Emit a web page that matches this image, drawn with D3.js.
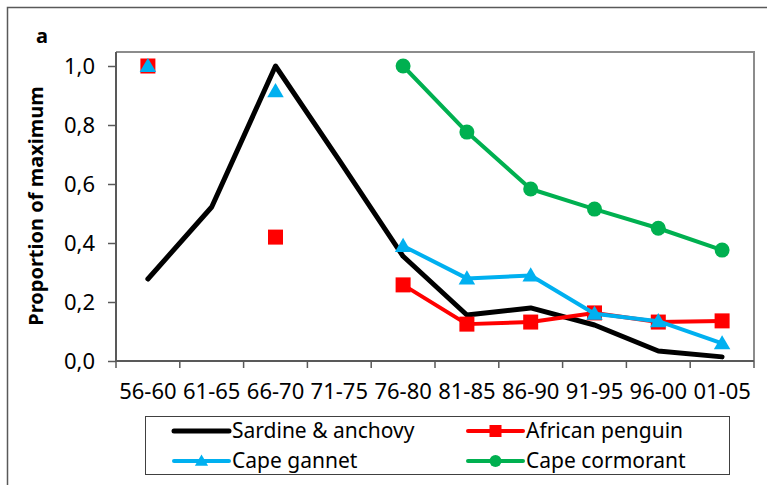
<!DOCTYPE html>
<html>
<head>
<meta charset="utf-8">
<script src="https://cdn.jsdelivr.net/npm/d3@7"></script>
<style>
  body { margin: 0; background: #fff; }
  svg { font-family: "Noto Sans", "Open Sans", sans-serif; }
</style>
</head>
<body>
<div id="chart"></div>
<script>
// categories (five-year periods)
const periods = ["56-60", "61-65", "66-70", "71-75", "76-80", "81-85", "86-90", "91-95", "96-00", "01-05"];

// series values, proportion of maximum (null = no data)
const sardineAnchovy = [0.278, 0.522, 1.0, 0.68, 0.355, 0.156, 0.18, 0.122, 0.034, 0.014];
const africanPenguin = [1.0, null, 0.42, null, 0.258, 0.125, 0.132, 0.163, 0.132, 0.136];
const capeGannet     = [1.0, null, 0.915, null, 0.39, 0.28, 0.29, 0.16, 0.135, 0.06];
const capeCormorant  = [null, null, null, null, 1.0, 0.776, 0.583, 0.515, 0.45, 0.376];

const yTicks = [0, 0.2, 0.4, 0.6, 0.8, 1.0];

const seriesNames = ["Sardine & anchovy", "African penguin", "Cape gannet", "Cape cormorant"];

const series = [
  { name: seriesNames[0], values: sardineAnchovy, color: "#000000", marker: null, width: 5 },
  { name: seriesNames[1], values: africanPenguin, color: "#FF0000", marker: "square", width: 4 },
  { name: seriesNames[2], values: capeGannet, color: "#00B0F0", marker: "triangle", width: 4 },
  { name: seriesNames[3], values: capeCormorant, color: "#00B050", marker: "circle", width: 4 }
];

const W = 767, H = 485;
const plot = { left: 116, right: 754, top: 52, bottom: 361 };

const svg = d3.select("#chart").append("svg")
  .attr("width", W)
  .attr("height", H);

// outer frame (left and top edges only are visible)
svg.append("path")
  .attr("d", `M7.5,${H} L7.5,7.5 L${W},7.5`)
  .attr("fill", "none")
  .attr("stroke", "#595959")
  .attr("stroke-width", 1.5);

// panel letter
svg.append("text")
  .attr("x", 36)
  .attr("y", 43)
  .attr("font-size", "20px")
  .attr("font-weight", "bold")
  .text("a");

const x = d3.scaleBand()
  .domain(periods)
  .range([plot.left, plot.right]);

const y = d3.scaleLinear()
  .domain([0, 1])
  .range([plot.bottom, 66]);

// plot area border (top & right grey)
svg.append("path")
  .attr("d", `M${plot.left},${plot.top} L${plot.right},${plot.top} L${plot.right},${plot.bottom}`)
  .attr("fill", "none")
  .attr("stroke", "#8C8C8C")
  .attr("stroke-width", 2);

// y axis
const yAxis = svg.append("g")
  .attr("transform", `translate(${plot.left},0)`)
  .call(d3.axisLeft(y).tickValues(yTicks).tickSize(8).tickPadding(13)
    .tickFormat(d => d3.format(".1f")(d).replace(".", ",")));
yAxis.select(".domain").remove();
yAxis.selectAll("line").attr("stroke", "#595959").attr("stroke-width", 1.5);
yAxis.selectAll("text").attr("font-size", "22px").attr("fill", "#000")
  .attr("font-family", "Noto Sans, sans-serif");

// x axis labels at band centres
const xAxis = svg.append("g")
  .attr("transform", `translate(0,${plot.bottom})`)
  .call(d3.axisBottom(x).tickSize(0).tickPadding(22));
xAxis.select(".domain").remove();
xAxis.selectAll("text").attr("font-size", "22px").attr("fill", "#000")
  .attr("font-family", "Noto Sans, sans-serif");

// x tick marks on band boundaries
const boundaries = periods.map(p => x(p)).concat([plot.right]);
svg.append("g").selectAll("line")
  .data(boundaries)
  .enter().append("line")
  .attr("x1", d => d).attr("x2", d => d)
  .attr("y1", plot.bottom).attr("y2", plot.bottom + 7)
  .attr("stroke", "#595959")
  .attr("stroke-width", 1.5);

// axis lines
svg.append("path")
  .attr("d", `M${plot.left},${plot.top} L${plot.left},${plot.bottom} L${plot.right},${plot.bottom}`)
  .attr("fill", "none")
  .attr("stroke", "#595959")
  .attr("stroke-width", 2);

// y axis title
svg.append("text")
  .attr("transform", "rotate(-90)")
  .attr("x", -206)
  .attr("y", 43)
  .attr("text-anchor", "middle")
  .attr("font-size", "20px")
  .attr("font-weight", "bold")
  .text("Proportion of maximum");

const cx = p => x(p) + x.bandwidth() / 2;

function drawMarker(g, type, color, size) {
  if (type === "square") {
    g.append("rect")
      .attr("x", -size / 2).attr("y", -size / 2)
      .attr("width", size).attr("height", size)
      .attr("fill", color);
  } else if (type === "triangle") {
    const h = size * 0.9;
    g.append("path")
      .attr("d", `M0,${-h * 0.6} L${size * 0.55},${h * 0.45} L${-size * 0.55},${h * 0.45} Z`)
      .attr("fill", color);
  } else if (type === "circle") {
    g.append("circle").attr("r", size / 2).attr("fill", color);
  }
}

const line = d3.line()
  .defined(d => d.v !== null)
  .x(d => cx(d.p))
  .y(d => y(d.v));

series.forEach(s => {
  const pts = periods.map((p, i) => ({ p: p, v: s.values[i] }));
  svg.append("path")
    .datum(pts)
    .attr("d", line)
    .attr("fill", "none")
    .attr("stroke", s.color)
    .attr("stroke-width", s.width)
    .attr("stroke-linejoin", "round")
    .attr("stroke-linecap", "round");

  if (s.marker) {
    pts.filter(d => d.v !== null).forEach(d => {
      const g = svg.append("g").attr("transform", `translate(${cx(d.p)},${y(d.v)})`);
      drawMarker(g, s.marker, s.color, 15);
    });
  }
});

// legend
const legend = svg.append("g");
legend.append("rect")
  .attr("x", 145.5).attr("y", 416.5)
  .attr("width", 584).attr("height", 58)
  .attr("fill", "#fff")
  .attr("stroke", "#404040")
  .attr("stroke-width", 1);

const legendPos = [
  { x: 174, y: 431 },
  { x: 468, y: 431 },
  { x: 174, y: 461 },
  { x: 468, y: 461 }
];

series.forEach((s, i) => {
  const p = legendPos[i];
  legend.append("line")
    .attr("x1", p.x).attr("x2", p.x + 55)
    .attr("y1", p.y).attr("y2", p.y)
    .attr("stroke", s.color)
    .attr("stroke-width", s.width)
    .attr("stroke-linecap", "round");
  if (s.marker) {
    const g = legend.append("g").attr("transform", `translate(${p.x + 27.5},${p.y})`);
    drawMarker(g, s.marker, s.color, 12);
  }
  legend.append("text")
    .attr("x", p.x + 58)
    .attr("y", p.y)
    .attr("dy", "0.35em")
    .attr("font-size", "21px")
    .text(s.name);
});
</script>
</body>
</html>
